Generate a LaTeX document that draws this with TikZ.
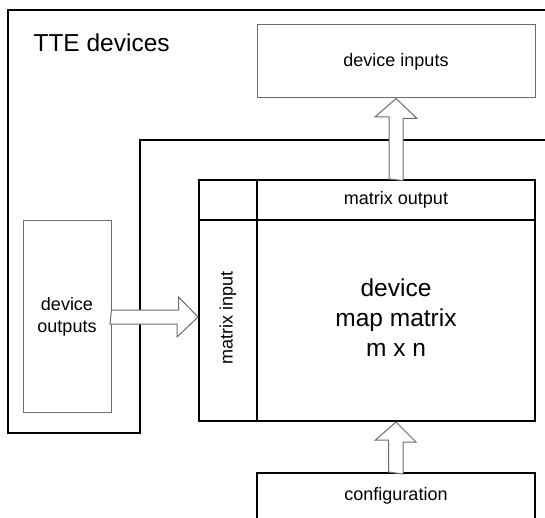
\documentclass[tikz,border=0pt]{standalone}
\usepackage{fontspec}
\setmainfont{Liberation Sans}
\usetikzlibrary{calc}
\begin{document}
\begin{tikzpicture}[x=1pt,y=-1pt,
  blk/.style={draw=black,line width=2pt},
  gbox/.style={draw=gray!85!black,line width=1pt},
  barrow/.style={draw=gray!85!black,line width=1pt,fill=white,line join=miter},
  small/.style={font=\fontsize{18}{22}\selectfont,align=center},
  big/.style={font=\fontsize{24.5}{30}\selectfont,align=center}]
\useasboundingbox (0,0) rectangle (545,518);
% outer TTE region
\draw[blk] (545,10) -- (8,10) -- (8,433) -- (140,433) -- (140,140) -- (545,140);
\node[font=\fontsize{24.5}{30}\selectfont,anchor=base west] (tte) at (30,52) {TTE devices};
% device inputs
\node[gbox,minimum width=278pt,minimum height=73pt,inner sep=0pt,small] (devin) at (396,61.5) {device inputs};
% device outputs
\node[gbox,minimum width=88pt,minimum height=191pt,inner sep=0pt,small] (devout) at (67,316.5) {device\\outputs};
% matrix
\node[blk,minimum width=336pt,minimum height=241pt,inner sep=0pt] (mat) at (367,300.5) {};
\coordinate (dv) at (257,180);
\coordinate (dh) at (199,220);
\draw[blk] (dv) -- (dv |- mat.south);
\draw[blk] (dh) -- (dh -| mat.east);
\node[small,anchor=center] (mout) at (396,200) {matrix output};
\node[small,rotate=90] (min) at (228,318) {matrix input};
\node[big] (mmain) at (396,318) {device\\map matrix\\m x n};
% configuration
\node[blk,minimum width=278pt,minimum height=80pt,inner sep=0pt] (conf) at (396,513) {};
\node[small] (conftxt) at (396,496) {configuration};
% block arrows
\draw[barrow] (mat.north -| devin.south) ++(-7,0) -- ++(0,-62) -- ++(-14,0) -- (devin.south) -- ++(21,20) -- ++(-14,0) -- ++(0,62) -- cycle;
\draw[barrow] (conf.north) ++(-7.5,0) -- ++(0,-32) -- ++(-13,0) -- (mat.south -| conf.north) -- ++(20,20) -- ++(-13,0) -- ++(0,32) -- cycle;
\draw[barrow] (devout.east |- 0,310) -- ++(67,0) -- ++(0,-13) -- (mat.west |- 0,317) -- ++(-21,20) -- ++(0,-13) -- ++(-67,0) -- cycle;
\end{tikzpicture}
\end{document}
